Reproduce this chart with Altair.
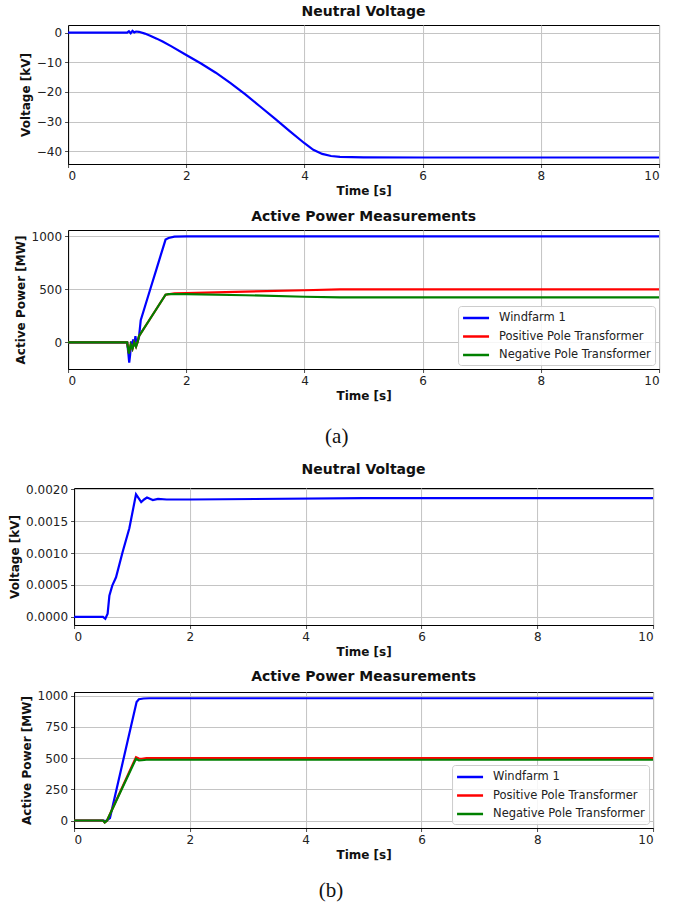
import altair as alt
import pandas as pd

# ---------------- (a) Neutral voltage ----------------
t_va = [0, 1.0, 1.03, 1.06, 1.09, 1.12, 1.15, 1.2, 1.3, 1.4, 1.5, 1.6, 1.75, 2.0,
        2.25, 2.5, 2.75, 3.0, 3.25, 3.5, 3.75, 4.0, 4.15, 4.3, 4.45, 4.6, 4.8, 5.0, 6.0, 8.0, 10.0]
v_va = [0, 0, 0.5, -0.2, 0.6, 0.1, 0.4, 0.3, -0.3, -1.1, -2.0, -3.0, -4.6, -7.5,
        -10.4, -13.5, -17.0, -20.8, -24.9, -29.0, -33.2, -37.3, -39.5, -40.9, -41.6, -41.9, -42.0, -42.05, -42.1, -42.1, -42.1]

# ---------------- (a) Active power ----------------
t_wf_a = [0, 1.0, 1.02, 1.035, 1.05, 1.07, 1.09, 1.1, 1.12, 1.14, 1.16, 1.18, 1.2, 1.23,
          1.3, 1.4, 1.5, 1.6, 1.65, 1.7, 1.8, 2.0, 10.0]
p_wf_a = [0, 0, -100, -190, -120, 10, -60, 30, -30, 60, -20, 20, 50, 210,
          337, 518, 699, 880, 970, 985, 998, 1000, 1000]
t_pp_a = [0, 1.0, 1.03, 1.06, 1.09, 1.12, 1.15, 1.18, 1.2, 1.4, 1.65, 1.8, 2.0, 3.0, 4.0, 4.6, 10.0]
p_pp_a = [0, 0, -100, -20, -60, 0, -40, 10, 60, 233, 450, 462, 465, 480, 492, 500, 500]
t_np_a = [0, 1.0, 1.03, 1.06, 1.09, 1.12, 1.15, 1.18, 1.2, 1.4, 1.65, 1.7, 2.0, 3.0, 4.0, 4.6, 10.0]
p_np_a = [0, 0, -105, -20, -60, 0, -40, 10, 60, 233, 450, 455, 455, 445, 431, 425, 425]

# ---------------- (b) Neutral voltage ----------------
t_vb = [0, 0.5, 0.54, 0.58, 0.61, 0.66, 0.725, 0.84, 0.955, 1.07, 1.1, 1.16, 1.21, 1.26,
        1.31, 1.36, 1.45, 1.6, 2.0, 5.0, 10.0]
v_vb = [0, 0, -0.00003, 0.00005, 0.00033, 0.00049, 0.00062, 0.00102, 0.00139, 0.00192, 0.00188,
        0.00180, 0.00184, 0.00187, 0.00185, 0.00183, 0.00185, 0.00184, 0.00184, 0.00186, 0.00186]

# ---------------- (b) Active power ----------------
t_wf_b = [0, 0.5, 0.55, 0.62, 1.08, 1.12, 1.2, 1.3, 10.0]
p_wf_b = [0, 0, -5, 20, 950, 972, 978, 980, 980]
t_pp_b = [0, 0.5, 0.53, 0.57, 1.07, 1.12, 1.17, 1.25, 10.0]
p_pp_b = [0, 0, -15, 0, 508, 497, 495, 500, 500]
t_np_b = [0, 0.5, 0.53, 0.57, 1.07, 1.12, 1.17, 1.25, 10.0]
p_np_b = [0, 0, -15, 0, 495, 482, 483, 487, 487]

series_names = ["Windfarm 1", "Positive Pole Transformer", "Negative Pole Transformer"]
series_colors = ["#0000ff", "#ff0000", "#008000"]
x_ticks = [0, 2, 4, 6, 8, 10]

FONT = "DejaVu Sans"


def power_df(tw, pw, tp, pp, tn, pn):
    rows = []
    for name, ts, ps in zip(series_names, [tw, tp, tn], [pw, pp, pn]):
        for t, p in zip(ts, ps):
            rows.append({"t": t, "p": p, "series": name})
    return pd.DataFrame(rows)


def x_enc():
    return alt.X("t:Q", scale=alt.Scale(domain=[0, 10], nice=False, zero=False),
                 axis=alt.Axis(values=x_ticks, title="Time [s]", format="d"))


def volt_chart(ts, vs, ydom, yticks, fmt, w, h):
    df = pd.DataFrame({"t": ts, "v": vs})
    return alt.Chart(df, title="Neutral Voltage").mark_line(
        color="#0000ff", strokeWidth=2.2, clip=True
    ).encode(
        x=x_enc(),
        y=alt.Y("v:Q", scale=alt.Scale(domain=ydom, nice=False, zero=False),
                axis=alt.Axis(values=yticks, title="Voltage [kV]", format=fmt,
                              labelExpr="replace(datum.label, '-', '\u2212')")),
    ).properties(width=w, height=h)


def power_chart(df, ydom, yticks, w, h):
    return alt.Chart(df, title="Active Power Measurements").mark_line(
        strokeWidth=2.2, clip=True
    ).encode(
        x=x_enc(),
        y=alt.Y("p:Q", scale=alt.Scale(domain=ydom, nice=False, zero=False),
                axis=alt.Axis(values=yticks, title="Active Power [MW]", format="d")),
        color=alt.Color("series:N", sort=series_names,
                        scale=alt.Scale(domain=series_names, range=series_colors),
                        legend=alt.Legend(title=None, orient="bottom-right", offset=4,
                                          symbolType="M-2,0H2", symbolSize=169,
                                          symbolOffset=6,
                                          symbolStrokeWidth=2.5, labelFontSize=11.5,
                                          labelFont=FONT, labelColor="#222",
                                          fillColor="rgba(255,255,255,0.85)",
                                          strokeColor="#cccccc", cornerRadius=3,
                                          padding=4, rowPadding=4.5, labelOffset=15,
                                          labelLimit=300)),
    ).properties(width=w, height=h)


p1 = volt_chart(t_va, v_va, [-44.3, 2.6], [0, -10, -20, -30, -40], "d", 591, 139)
p2 = power_chart(power_df(t_wf_a, p_wf_a, t_pp_a, p_pp_a, t_np_a, p_np_a),
                 [-250, 1060], [0, 500, 1000], 591, 139)
p3 = volt_chart(t_vb, v_vb, [-0.000128, 0.00202], [0, 0.0005, 0.001, 0.0015, 0.002], ".4f", 579, 137)
p4 = power_chart(power_df(t_wf_b, p_wf_b, t_pp_b, p_pp_b, t_np_b, p_np_b),
                 [-60, 1030], [0, 250, 500, 750, 1000], 579, 136)

label_font = dict(orient="bottom", font="Liberation Serif", fontSize=21,
                  fontWeight="normal", color="#111", anchor="middle")

group_a = alt.vconcat(p1, p2, spacing=12,
                      title=alt.TitleParams(text="(a)", offset=24, **label_font)
                      ).resolve_legend(color="independent").resolve_scale(color="independent")
group_b = alt.vconcat(p3, p4, spacing=11,
                      title=alt.TitleParams(text="(b)", offset=19, **label_font)
                      ).resolve_legend(color="independent").resolve_scale(color="independent")

chart = alt.vconcat(group_a, group_b, spacing=15, center=True
                    ).resolve_legend(color="independent").resolve_scale(color="independent").configure(
    font=FONT,
    padding={"left": 8, "top": 4, "right": 5, "bottom": 5},
    background="white",
).configure_view(
    stroke="black", strokeWidth=1
).configure_axis(
    labelFont=FONT, labelFontSize=12, labelColor="#222",
    titleFont=FONT, titleFontSize=12, titleFontWeight="bold", titleColor="#111",
    tickColor="#222", tickSize=3.5, tickWidth=0.8, labelPadding=3,
    domainColor="black", domainWidth=1,
    grid=True, gridColor="#c4c4c4", gridWidth=1, titlePadding=4,
).configure_title(
    font=FONT, fontSize=14, fontWeight="bold", color="#111", offset=6, anchor="middle"
)

chart.save("out.html", embed_options={"renderer": "svg", "actions": False})
